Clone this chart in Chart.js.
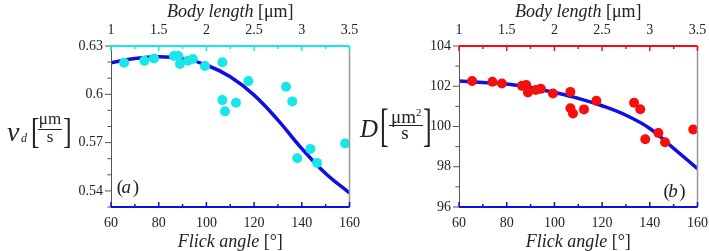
<!DOCTYPE html>
<html>
<head>
<meta charset="utf-8">
<script src="https://cdn.jsdelivr.net/npm/chart.js@4.4.1/dist/chart.umd.min.js"></script>
<style>
  body { margin: 0; background: #fff; }
  #wrap { position: relative; width: 709px; height: 251px; overflow: hidden; }
  canvas { position: absolute; top: 0; }
  #chartA { left: 0; }
  #chartB { left: 355px; }
</style>
</head>
<body>
<div id="wrap">
  <canvas id="chartA" width="366" height="251"></canvas>
  <canvas id="chartB" width="354" height="251"></canvas>
</div>
<script>
// measured samples, x = flick angle in degrees
const flickAngle = [65.5, 74.0, 78.0, 86.4, 88.2, 88.9, 92.2, 94.3, 99.4, 106.7,
                    106.7, 107.8, 112.4, 117.6, 133.4, 136.0, 138.1, 143.6, 146.4, 158.2];
const speed = [0.6196, 0.6209, 0.6223, 0.6238, 0.6238, 0.6188, 0.6209, 0.6219, 0.6176, 0.6199,
               0.5964, 0.5894, 0.5947, 0.6082, 0.6047, 0.5956, 0.5603, 0.5661, 0.5574, 0.5695];
const diffusion = [102.26, 102.22, 102.14, 102.02, 102.06, 101.69, 101.81, 101.87, 101.64, 101.72,
                   100.91, 100.65, 100.85, 101.28, 101.18, 100.86, 99.37, 99.68, 99.22, 99.85];

// fitted curves
const fitAngle = [60, 70, 80, 90, 100, 110, 120, 130, 140, 150, 160];
const fitSpeed = [0.6196, 0.6223, 0.6233, 0.6223, 0.6182, 0.6109, 0.5995, 0.5840, 0.5663, 0.5508, 0.5387];
const fitDiff = [102.26, 102.19, 102.11, 101.94, 101.69, 101.40, 101.03, 100.56, 99.90, 98.91, 97.91];

// axis ticks
const angleTicks = [60, 80, 100, 120, 140, 160];
const lengthTicks = [1, 1.5, 2, 2.5, 3, 3.5];
const speedTicks = [0.54, 0.57, 0.6, 0.63];
const diffTicks = [96, 98, 100, 102, 104];

const SERIF = '"Liberation Serif", "Times New Roman", serif';
const TEXT = '#222';
const BLUE = 'rgb(15, 15, 225)';

function pts(xs, ys) {
  return xs.map((x, i) => ({ x: x, y: ys[i] }));
}

// draws a row of text pieces with different fonts
function drawRun(ctx, x, y, parts, align) {
  let w = 0;
  parts.forEach(p => { ctx.font = p.f; w += ctx.measureText(p.t).width; });
  let cx = align === 'center' ? x - w / 2 : x;
  parts.forEach(p => {
    ctx.font = p.f;
    ctx.fillText(p.t, cx, y + (p.dy || 0));
    cx += ctx.measureText(p.t).width;
  });
}

// tall thin bracket: smaller font stretched vertically
function bracket(ctx, ch, x, y, sy) {
  ctx.save();
  ctx.translate(x, y);
  ctx.scale(1, sy);
  ctx.font = '26px ' + SERIF;
  ctx.textAlign = 'left';
  ctx.fillText(ch, 0, 0);
  ctx.restore();
}

function drawTicks(ctx, scale, min, max, step, majors, len, dir) {
  const n = Math.round((max - min) / step);
  for (let i = 0; i <= n; i++) {
    const v = min + i * step;
    const major = majors.some(m => Math.abs(m - v) < step / 100);
    const l = major ? len : len * 0.6;
    const p = scale.getPixelForValue(v);
    ctx.beginPath();
    if (dir === 'left') {
      ctx.moveTo(scale.right, p); ctx.lineTo(scale.right - l, p);
    } else if (dir === 'down') {
      ctx.moveTo(p, scale.bottom); ctx.lineTo(p, scale.bottom + l);
    } else {
      ctx.moveTo(p, scale.top); ctx.lineTo(p, scale.top - l);
    }
    ctx.stroke();
  }
}

const framePlugin = {
  id: 'frame',
  afterDatasetsDraw(chart, args, o) {
    const { ctx, chartArea: a, scales } = chart;
    ctx.save();
    ctx.lineCap = 'butt';
    // right edge
    ctx.strokeStyle = '#999'; ctx.lineWidth = 1.5;
    ctx.beginPath(); ctx.moveTo(a.right, a.top); ctx.lineTo(a.right, a.bottom); ctx.stroke();
    // left axis
    ctx.strokeStyle = '#555'; ctx.lineWidth = 1;
    ctx.beginPath(); ctx.moveTo(a.left + 0.5, a.top); ctx.lineTo(a.left + 0.5, a.bottom); ctx.stroke();
    drawTicks(ctx, scales.y, o.yMin, o.yMax, o.yMinor, o.yMajor, 6, 'left');
    // top axis
    ctx.strokeStyle = o.topColor; ctx.lineWidth = 2;
    ctx.beginPath(); ctx.moveTo(a.left, a.top); ctx.lineTo(a.right, a.top); ctx.stroke();
    ctx.lineWidth = 1.5;
    drawTicks(ctx, scales.x2, 1, 3.5, 0.25, lengthTicks, 5, 'down');
    // bottom axis
    ctx.strokeStyle = BLUE; ctx.lineWidth = 2;
    ctx.beginPath(); ctx.moveTo(a.left, a.bottom); ctx.lineTo(a.right, a.bottom); ctx.stroke();
    ctx.lineWidth = 1.5;
    drawTicks(ctx, scales.x, 60, 160, 10, angleTicks, 5, 'up');

    // axis titles
    ctx.fillStyle = TEXT;
    ctx.textBaseline = 'alphabetic';
    ctx.textAlign = 'left';
    const mid = (a.left + a.right) / 2;
    drawRun(ctx, mid, 17, [
      { t: 'Body length', f: 'italic 18px ' + SERIF },
      { t: ' [μm]', f: '18px ' + SERIF }
    ], 'center');
    drawRun(ctx, mid, 247, [
      { t: 'Flick angle', f: 'italic 18px ' + SERIF },
      { t: ' [°]', f: '18px ' + SERIF }
    ], 'center');
    o.yTitle(ctx);
    drawRun(ctx, o.tag[0], o.tag[1], [
      { t: '(', f: '19px ' + SERIF },
      { t: o.tag[2], f: 'italic 19px ' + SERIF },
      { t: ')', f: '19px ' + SERIF }
    ]);
    ctx.restore();
  }
};

function titleA(ctx) {
  ctx.textAlign = 'left';
  ctx.font = 'italic 28px ' + SERIF; ctx.fillText('v', 7, 141);
  ctx.font = 'italic 12px ' + SERIF; ctx.fillText('d', 21, 142);
  bracket(ctx, '[', 31, 142.5, 1.38);
  bracket(ctx, ']', 63, 142.5, 1.38);
  ctx.textAlign = 'center';
  ctx.font = '17px ' + SERIF;
  ctx.fillText('μm', 50, 124);
  ctx.fillText('s', 50, 141.5);
  ctx.fillRect(38, 129, 24, 1);
}

function titleB(ctx) {
  ctx.textAlign = 'left';
  ctx.font = 'italic 25px ' + SERIF; ctx.fillText('D', 5, 136.7);
  bracket(ctx, '[', 25, 140.5, 1.78);
  bracket(ctx, ']', 68, 140.5, 1.78);
  ctx.font = '19px ' + SERIF; ctx.fillText('μm', 36, 122.5);
  ctx.font = '11px ' + SERIF; ctx.fillText('2', 61, 115.5);
  ctx.textAlign = 'center';
  ctx.font = '19px ' + SERIF; ctx.fillText('s', 50, 138.5);
  ctx.fillRect(34, 125, 34, 1);
}

function makePanel(id, cfg) {
  const tickFont = { family: SERIF, size: 14 };
  const fixTicks = list => s => { s.ticks = list.map(v => ({ value: v })); };
  const fmt = v => String(+v.toFixed(2));
  new Chart(document.getElementById(id), {
    type: 'scatter',
    data: {
      datasets: [{
        type: 'scatter',
        data: pts(flickAngle, cfg.values),
        backgroundColor: cfg.pointColor,
        borderWidth: 0,
        pointRadius: 5,
        pointHoverRadius: 5
      }, {
        type: 'line',
        data: pts(fitAngle, cfg.fit),
        borderColor: BLUE,
        borderWidth: 3.5,
        pointRadius: 0,
        tension: 0.4,
        fill: false
      }]
    },
    options: {
      responsive: false,
      animation: false,
      layout: { padding: { left: 0, right: cfg.padRight, top: 0, bottom: 0 } },
      plugins: {
        legend: { display: false },
        tooltip: { enabled: false },
        frame: cfg.frame
      },
      scales: {
        x: {
          type: 'linear', position: 'bottom', min: 60, max: 160,
          grid: { display: false, drawTicks: false }, border: { display: false },
          ticks: { font: tickFont, color: TEXT, padding: 8, maxRotation: 0, autoSkip: false, callback: fmt },
          afterBuildTicks: fixTicks(angleTicks),
          afterFit: s => { s.height = 44; s.paddingLeft = 0; s.paddingRight = 0; }
        },
        x2: {
          type: 'linear', position: 'top', min: 1, max: 3.5,
          grid: { display: false, drawTicks: false }, border: { display: false },
          ticks: { font: tickFont, color: TEXT, padding: 7, maxRotation: 0, autoSkip: false, callback: fmt },
          afterBuildTicks: fixTicks(lengthTicks),
          afterFit: s => { s.height = 46; s.paddingLeft = 0; s.paddingRight = 0; }
        },
        y: {
          type: 'linear', position: 'left', min: cfg.frame.yMin, max: cfg.frame.yMax,
          grid: { display: false, drawTicks: false }, border: { display: false },
          ticks: { font: tickFont, color: TEXT, padding: 8, autoSkip: false, callback: fmt },
          afterBuildTicks: fixTicks(cfg.frame.yMajor),
          afterFit: s => { s.width = cfg.leftWidth; s.paddingTop = 0; s.paddingBottom = 0; }
        }
      }
    },
    plugins: [framePlugin]
  });
}

makePanel('chartA', {
  values: speed,
  fit: fitSpeed,
  pointColor: 'rgb(25, 230, 235)',
  leftWidth: 111,
  padRight: 16.5,
  frame: {
    yMin: 0.53, yMax: 0.63, yMinor: 0.01, yMajor: speedTicks,
    topColor: 'rgb(25, 230, 235)',
    yTitle: titleA,
    tag: [120, 193.3, 'a']
  }
});

makePanel('chartB', {
  values: diffusion,
  fit: fitDiff,
  pointColor: 'rgb(245, 15, 15)',
  leftWidth: 104,
  padRight: 11.5,
  frame: {
    yMin: 96, yMax: 104, yMinor: 1, yMajor: diffTicks,
    topColor: 'rgb(245, 15, 15)',
    yTitle: titleB,
    tag: [311.7, 196.6, 'b']
  }
});
</script>
</body>
</html>
